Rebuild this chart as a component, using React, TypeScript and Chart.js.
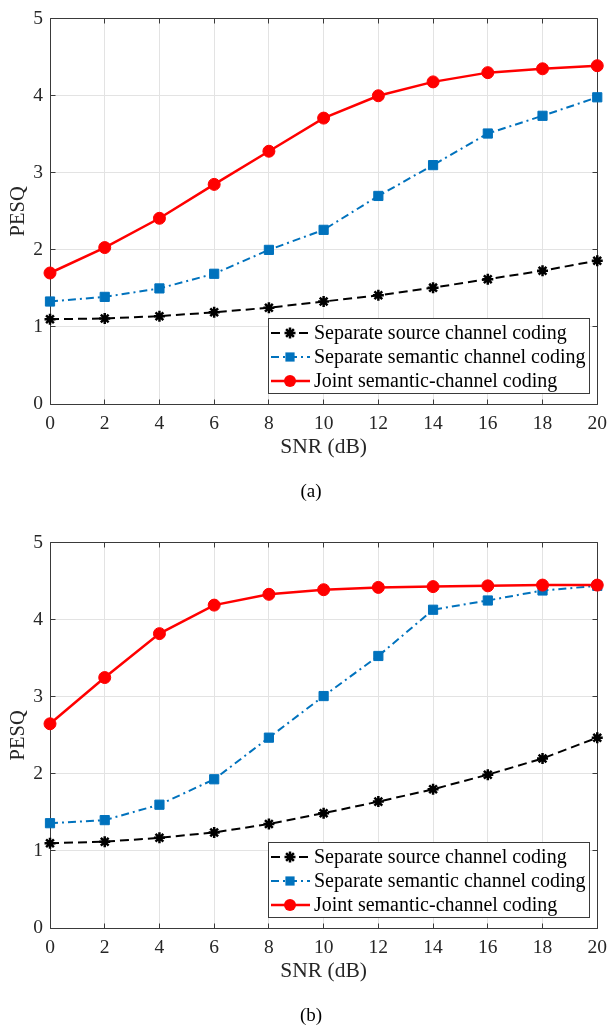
import React, { useEffect, useRef } from 'react';
import { Chart, registerables } from 'chart.js';

Chart.register(...registerables);

// ---------------- data ----------------
const snr = [0, 2, 4, 6, 8, 10, 12, 14, 16, 18, 20];
const xTickValues = [0, 2, 4, 6, 8, 10, 12, 14, 16, 18, 20];
const yTickValues = [0, 1, 2, 3, 4, 5];
const seriesLabels = [
  'Separate source channel coding',
  'Separate semantic channel coding',
  'Joint semantic-channel coding',
];
const xTitle = 'SNR (dB)';
const yTitle = 'PESQ';

// figure (a)
const sourceA = [1.10, 1.11, 1.14, 1.19, 1.25, 1.33, 1.41, 1.51, 1.62, 1.73, 1.86];
const semanticA = [1.33, 1.39, 1.50, 1.69, 2.00, 2.26, 2.70, 3.10, 3.51, 3.74, 3.98];
const jointA = [1.70, 2.03, 2.41, 2.85, 3.28, 3.71, 4.00, 4.18, 4.30, 4.35, 4.39];

// figure (b)
const sourceB = [1.10, 1.12, 1.17, 1.24, 1.35, 1.49, 1.64, 1.80, 1.99, 2.20, 2.47];
const semanticB = [1.36, 1.40, 1.60, 1.93, 2.47, 3.01, 3.53, 4.13, 4.25, 4.38, 4.44];
const jointB = [2.65, 3.25, 3.82, 4.19, 4.33, 4.39, 4.42, 4.43, 4.44, 4.45, 4.45];

const captions = ['(a)', '(b)'];

// ---------------- styles ----------------
const FONT = "'Liberation Serif', 'Times New Roman', serif";
const TEXT_COLOR = '#262626';
const AXIS_COLOR = '#3a3a3a';
const GRID_COLOR = '#e3e3e3';

type SeriesStyle = {
  color: string;
  dash: number[];
  width: number;
  marker: 'star' | 'rect' | 'circle';
  radius: number;
};

const seriesStyles: SeriesStyle[] = [
  { color: '#000000', dash: [9, 5], width: 2, marker: 'star', radius: 5.5 },
  { color: '#0072BD', dash: [8, 4, 2, 4], width: 2, marker: 'rect', radius: 6.5 },
  { color: '#FF0000', dash: [], width: 2.5, marker: 'circle', radius: 6 },
];

function alignPx(v: number) {
  return Math.round(v - 0.5) + 0.5;
}

function drawMarker(ctx: CanvasRenderingContext2D, s: SeriesStyle, x: number, y: number) {
  ctx.save();
  ctx.setLineDash([]);
  ctx.fillStyle = s.color;
  ctx.strokeStyle = s.color;
  if (s.marker === 'circle') {
    ctx.beginPath();
    ctx.arc(x, y, s.radius, 0, Math.PI * 2);
    ctx.fill();
  } else if (s.marker === 'rect') {
    const h = s.radius * Math.SQRT1_2;
    ctx.fillRect(x - h, y - h, 2 * h, 2 * h);
  } else {
    ctx.lineWidth = 2.5;
    const r = s.radius;
    const d = r * Math.SQRT1_2;
    ctx.beginPath();
    ctx.moveTo(x - r, y); ctx.lineTo(x + r, y);
    ctx.moveTo(x, y - r); ctx.lineTo(x, y + r);
    ctx.moveTo(x - d, y - d); ctx.lineTo(x + d, y + d);
    ctx.moveTo(x - d, y + d); ctx.lineTo(x + d, y - d);
    ctx.stroke();
  }
  ctx.restore();
}

const framePlugin = {
  id: 'matlabFrame',
  beforeDatasetsDraw(chart: any) {
    const { ctx, chartArea: a, scales } = chart;
    const xs = scales.x;
    const ys = scales.y;
    const L = alignPx(a.left);
    const R = alignPx(a.right);
    const T = alignPx(a.top);
    const B = alignPx(a.bottom);
    const tl = 5;
    ctx.save();
    ctx.strokeStyle = AXIS_COLOR;
    ctx.lineWidth = 1;
    ctx.beginPath();
    ctx.rect(L, T, R - L, B - T);
    for (const v of xTickValues) {
      const px = alignPx(xs.getPixelForValue(v));
      ctx.moveTo(px, B); ctx.lineTo(px, B - tl);
      ctx.moveTo(px, T); ctx.lineTo(px, T + tl);
    }
    for (const v of yTickValues) {
      const py = alignPx(ys.getPixelForValue(v));
      ctx.moveTo(L, py); ctx.lineTo(L + tl, py);
      ctx.moveTo(R, py); ctx.lineTo(R - tl, py);
    }
    ctx.stroke();
    ctx.restore();
  },
  afterDatasetsDraw(chart: any) {
    const { ctx, chartArea: a } = chart;
    ctx.save();
    ctx.font = `20px ${FONT}`;
    let maxW = 0;
    for (const t of seriesLabels) maxW = Math.max(maxW, ctx.measureText(t).width);
    const boxW = 46 + maxW + 3;
    const boxH = 75;
    const right = Math.round(a.right - 8);
    const bottom = Math.round(a.bottom - 11);
    const left = right - Math.round(boxW);
    const top = bottom - boxH;
    ctx.fillStyle = '#ffffff';
    ctx.fillRect(left, top, right - left, boxH);
    ctx.strokeStyle = AXIS_COLOR;
    ctx.lineWidth = 1;
    ctx.strokeRect(left + 0.5, top + 0.5, right - left, boxH);
    seriesLabels.forEach((label, i) => {
      const s = seriesStyles[i];
      const cy = top + 15 + i * 24;
      ctx.save();
      ctx.strokeStyle = s.color;
      ctx.lineWidth = s.width;
      ctx.setLineDash(s.dash);
      ctx.beginPath();
      ctx.moveTo(left + 3, cy);
      ctx.lineTo(left + 42, cy);
      ctx.stroke();
      ctx.restore();
      drawMarker(ctx, s, left + 22, cy);
      ctx.fillStyle = '#000000';
      ctx.textBaseline = 'middle';
      ctx.textAlign = 'left';
      ctx.fillText(label, left + 46, cy + 1);
    });
    ctx.restore();
  },
  afterDraw(chart: any) {
    const { ctx, chartArea: a } = chart;
    const cap = chart.options.plugins.matlabFrame?.caption;
    if (!cap) return;
    ctx.save();
    ctx.font = `19px ${FONT}`;
    ctx.fillStyle = '#000000';
    ctx.textAlign = 'center';
    ctx.textBaseline = 'middle';
    ctx.fillText(cap, 311, a.bottom + 88);
    ctx.restore();
  },
};

function makeDataset(values: number[], i: number) {
  const s = seriesStyles[i];
  return {
    label: seriesLabels[i],
    data: snr.map((x, k) => ({ x, y: values[k] })),
    borderColor: s.color,
    backgroundColor: s.color,
    borderWidth: s.width,
    borderDash: s.dash,
    pointStyle: s.marker,
    pointRadius: s.radius,
    pointBackgroundColor: s.color,
    pointBorderColor: s.color,
    pointBorderWidth: s.marker === 'star' ? 2.5 : 1,
    tension: 0,
    clip: false as any,
    order: 3 - i,
  };
}

type PanelProps = {
  source: number[];
  semantic: number[];
  joint: number[];
  caption: string;
  height: number;
  top: number;
  bottomPad: number;
};

function Panel({ source, semantic, joint, caption, height, top, bottomPad }: PanelProps) {
  const ref = useRef<HTMLCanvasElement | null>(null);
  useEffect(() => {
    if (!ref.current) return;
    const chart = new Chart(ref.current, {
      type: 'line',
      data: {
        datasets: [makeDataset(source, 0), makeDataset(semantic, 1), makeDataset(joint, 2)],
      },
      plugins: [framePlugin],
      options: {
        animation: false,
        responsive: false,
        devicePixelRatio: 1,
        layout: { padding: { left: 0, right: 13, top: 13, bottom: bottomPad } },
        plugins: {
          legend: { display: false },
          tooltip: { enabled: false },
          title: { display: false },
          matlabFrame: { caption },
        } as any,
        scales: {
          x: {
            type: 'linear',
            min: 0,
            max: 20,
            afterBuildTicks: (scale: any) => {
              scale.ticks = xTickValues.map((v) => ({ value: v }));
            },
            afterFit: (scale: any) => {
              scale.height = 60;
            },
            grid: { color: GRID_COLOR, lineWidth: 1, drawTicks: false },
            border: { display: false },
            ticks: {
              color: TEXT_COLOR,
              font: { family: FONT, size: 19.5 },
              padding: 8,
              maxRotation: 0,
              autoSkip: false,
            },
            title: {
              display: true,
              text: xTitle,
              color: TEXT_COLOR,
              font: { family: FONT, size: 21.5 },
              padding: { top: 0, bottom: 4 },
            },
          },
          y: {
            type: 'linear',
            min: 0,
            max: 5,
            afterBuildTicks: (scale: any) => {
              scale.ticks = yTickValues.map((v) => ({ value: v }));
            },
            afterFit: (scale: any) => {
              scale.width = 50;
            },
            grid: { color: GRID_COLOR, lineWidth: 1, drawTicks: false },
            border: { display: false },
            ticks: {
              color: TEXT_COLOR,
              font: { family: FONT, size: 19.5 },
              padding: 7,
              autoSkip: false,
            },
            title: {
              display: true,
              text: yTitle,
              color: TEXT_COLOR,
              font: { family: FONT, size: 20.5 },
              padding: { top: 6, bottom: 0 },
            },
          },
        },
      } as any,
    });
    return () => chart.destroy();
  }, [source, semantic, joint, caption, bottomPad]);

  return (
    <canvas
      ref={ref}
      width={615}
      height={height}
      style={{ position: 'absolute', left: 0, top, width: 615, height, display: 'block' }}
    />
  );
}

export default function App() {
  return (
    <div style={{ position: 'absolute', left: 0, top: 0, width: 615, height: 1028, background: '#ffffff' }}>
      <Panel source={sourceA} semantic={semanticA} joint={jointA} caption={captions[0]} height={524} top={0} bottomPad={60} />
      <Panel source={sourceB} semantic={semanticB} joint={jointB} caption={captions[1]} height={504} top={524} bottomPad={40} />
    </div>
  );
}
